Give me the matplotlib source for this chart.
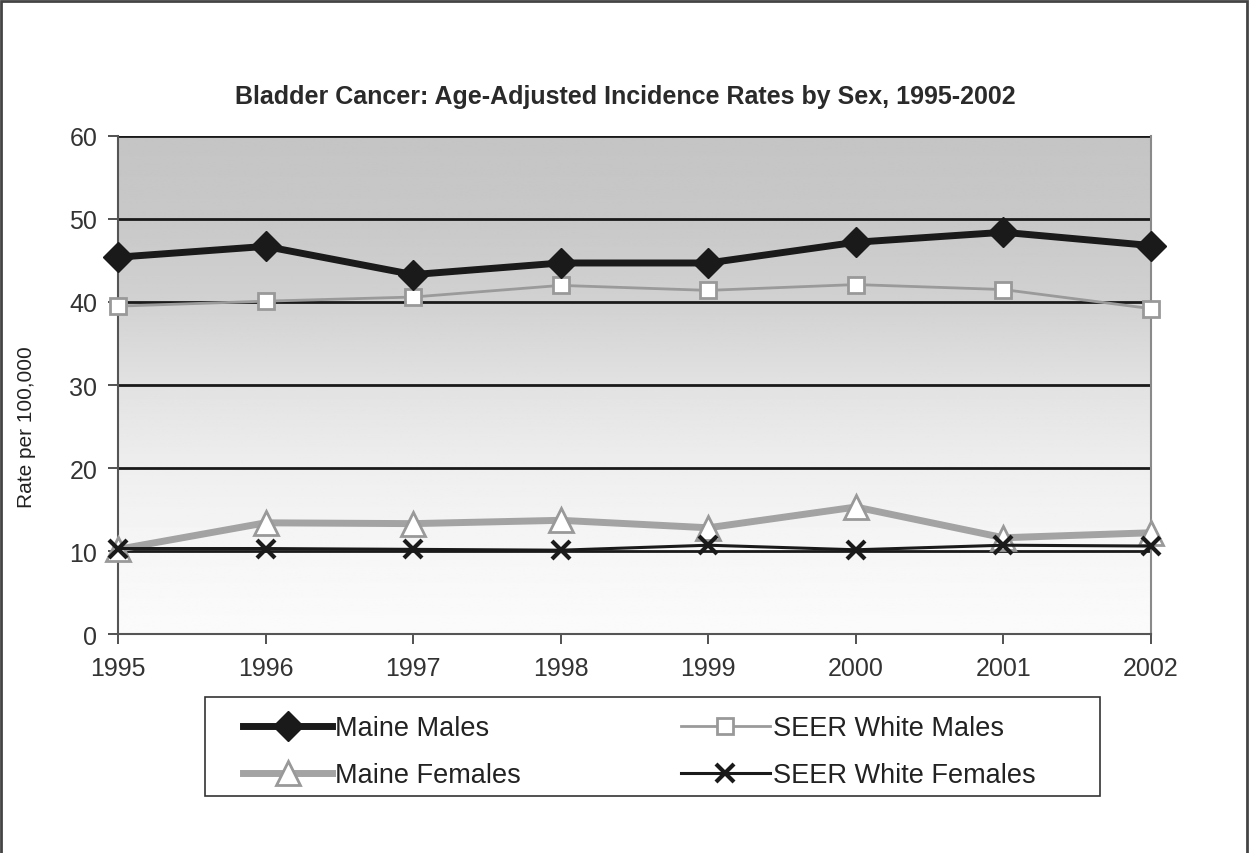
import numpy as np
import matplotlib
matplotlib.use("Agg")
import matplotlib.pyplot as plt
from matplotlib.patches import Rectangle

years = [1995, 1996, 1997, 1998, 1999, 2000, 2001, 2002]
maine_males = [45.4, 46.7, 43.3, 44.7, 44.7, 47.2, 48.4, 46.8]
seer_white_males = [39.5, 40.1, 40.6, 42.0, 41.4, 42.1, 41.5, 39.2]
maine_females = [10.2, 13.4, 13.3, 13.7, 12.8, 15.3, 11.6, 12.2]
seer_white_females = [10.3, 10.3, 10.2, 10.1, 10.7, 10.15, 10.7, 10.6]
y_ticks = [0, 10, 20, 30, 40, 50, 60]

plt.rcParams["font.family"] = ["Liberation Sans", "DejaVu Sans"]

fig = plt.figure(figsize=(12.49, 8.54), dpi=100)
ax = fig.add_axes([0.0945, 0.2564, 0.827, 0.5832])

# plot area background: grey at the top fading to white at the bottom
shade = np.interp(np.linspace(60, 0, 300), [0, 10, 20, 30, 40, 50, 60],
                  [0.985, 0.965, 0.935, 0.885, 0.82, 0.785, 0.77])
img = np.repeat(shade[:, None], 2, axis=1)
ax.imshow(img, cmap="gray", vmin=0, vmax=1, aspect="auto",
          extent=[years[0], years[-1], 0, 60], zorder=0)

for v in y_ticks[1:]:
    ax.axhline(v, color="#1a1a1a", lw=2.0, zorder=1)

l_sf, = ax.plot(years, seer_white_females, color="#1a1a1a", lw=2.2,
                marker="x", ms=13, mew=3, zorder=4, clip_on=False)
l_mf, = ax.plot(years, maine_females, color="#a3a3a3", lw=5,
                marker="^", ms=17, mfc="white", mec="#999999", mew=2,
                zorder=3, clip_on=False)
l_sm, = ax.plot(years, seer_white_males, color="#9a9a9a", lw=2,
                marker="s", ms=12, mfc="white", mec="#999999", mew=2,
                zorder=3, clip_on=False)
l_mm, = ax.plot(years, maine_males, color="#1a1a1a", lw=5,
                marker="D", ms=15, zorder=4, clip_on=False)

ax.set_xlim(years[0], years[-1])
ax.set_ylim(0, 60)
ax.set_xticks(years)
ax.set_yticks(y_ticks)
ax.tick_params(axis="both", labelsize=18, colors="#333333", length=7, width=1.2)
ax.tick_params(axis="x", pad=9)
ax.tick_params(axis="y", pad=8)
for s in ["left", "bottom"]:
    ax.spines[s].set_color("#555555")
    ax.spines[s].set_linewidth(1.5)
ax.spines["right"].set_color("#8a8a8a")
ax.spines["right"].set_linewidth(1.5)
ax.spines["top"].set_visible(False)

fig.text(0.021, 0.5, "Rate per 100,000", rotation=90, fontsize=15,
         color="#222222", ha="center", va="center")
fig.text(0.501, 0.886, "Bladder Cancer: Age-Adjusted Incidence Rates by Sex, 1995-2002",
         fontsize=18, fontweight="bold", color="#2a2a2a", ha="center", va="center")

# legend frame drawn separately, entries placed inside it
fig.patches.append(Rectangle((205 / 1249, 1 - 797 / 854), 895 / 1249, 99 / 854,
                             transform=fig.transFigure, fill=False,
                             edgecolor="#333333", lw=1.2))
leg = fig.legend([l_mm, l_mf, l_sm, l_sf],
                 ["Maine Males", "Maine Females", "SEER White Males", "SEER White Females"],
                 ncol=2, loc="upper left", bbox_to_anchor=(243 / 1249, 1 - 716 / 854),
                 fontsize=19.5, frameon=False, handlelength=3.3,
                 handletextpad=0.1, borderaxespad=0, labelspacing=0.78,
                 borderpad=0, columnspacing=5.9)
for t in leg.get_texts():
    t.set_color("#222222")

fig.patches.append(Rectangle((0.001, -0.01), 0.997, 1.008, transform=fig.transFigure,
                             fill=False, edgecolor="#444444", lw=2))

fig.savefig("out.png", dpi=100)
